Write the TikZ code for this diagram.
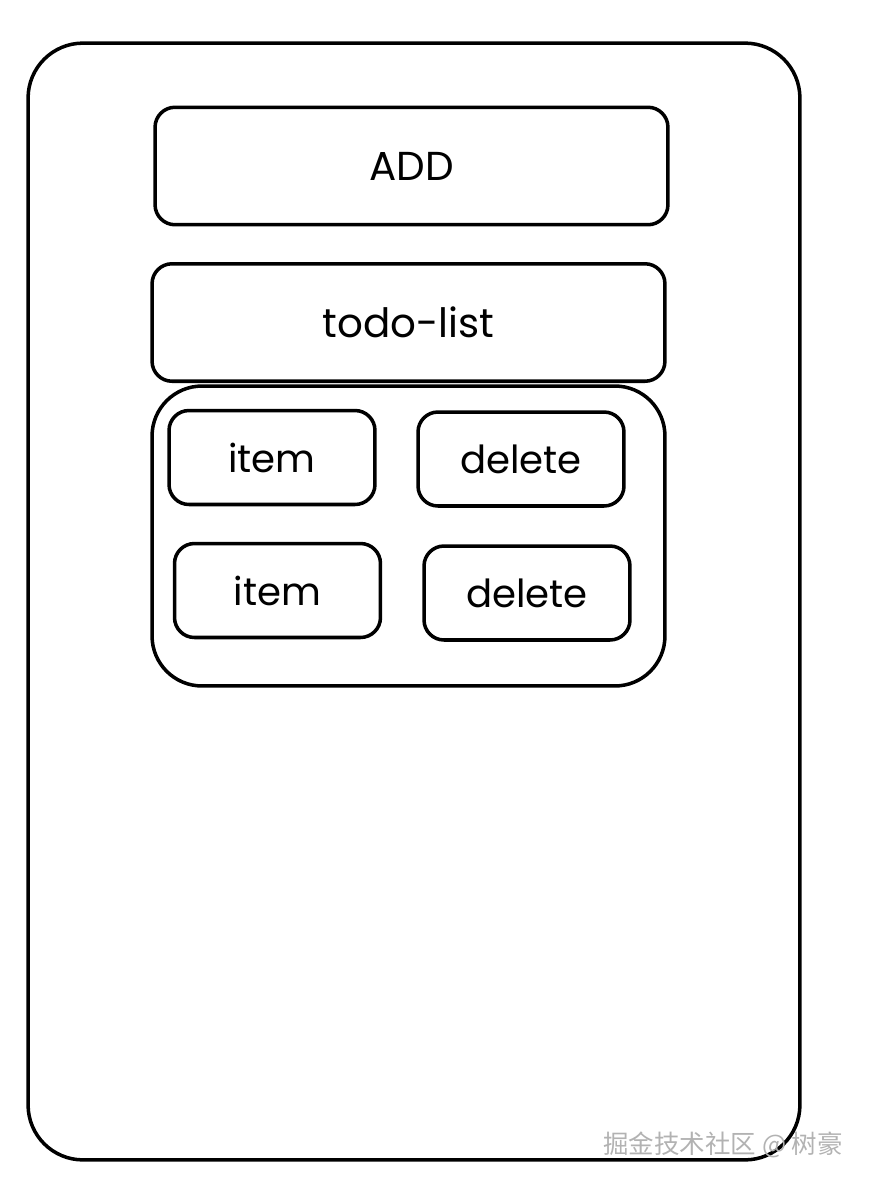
\documentclass[tikz,border=0pt]{standalone}
\usepackage{fontspec}
\setmainfont{Poppins}
\newfontfamily\cjk{Noto Sans CJK SC}
\usetikzlibrary{positioning}

\begin{document}
\begin{tikzpicture}[
  x=0.02cm, y=-0.02cm,
  frame/.style={draw, line width=2pt, rounded corners=1.1cm,
                minimum width=15.44cm, minimum height=22.34cm},
  bar/.style={draw, line width=2pt, rounded corners=0.4cm,
              minimum width=10.26cm, minimum height=2.35cm,
              font=\fontsize{23}{27}\selectfont},
  btn/.style={draw, line width=2pt, rounded corners=0.4cm,
              minimum width=4.12cm, minimum height=1.88cm,
              font=\fontsize{22}{26}\selectfont}
]
  \useasboundingbox (0,0) rectangle (870,1190);

  % phone frame
  \node[frame] (phone) at (414,601.5) {};

  % top bars
  \node[bar] (add)  at (411.5,166)   {ADD};
  \node[bar] (todo) at (408.5,322.5) {todo-list};

  % list with its rows
  \node[draw, line width=2pt, rounded corners=1cm,
        minimum width=10.26cm, minimum height=6cm] (list) at (408.5,536) {};
  \node[btn] (item1) at (272,457.5) {item};
  \node[btn] (del1)  at (521,459)   {delete};
  \node[btn] (item2) at (277.5,590.5) {item};
  \node[btn] (del2)  at (527,593)   {delete};

  % watermark
  \node[text=gray!60, font=\cjk\fontsize{14.5}{18}\selectfont, anchor=east]
    (mark) at (849,1145) {掘金技术社区 @ 树豪};
\end{tikzpicture}
\end{document}
